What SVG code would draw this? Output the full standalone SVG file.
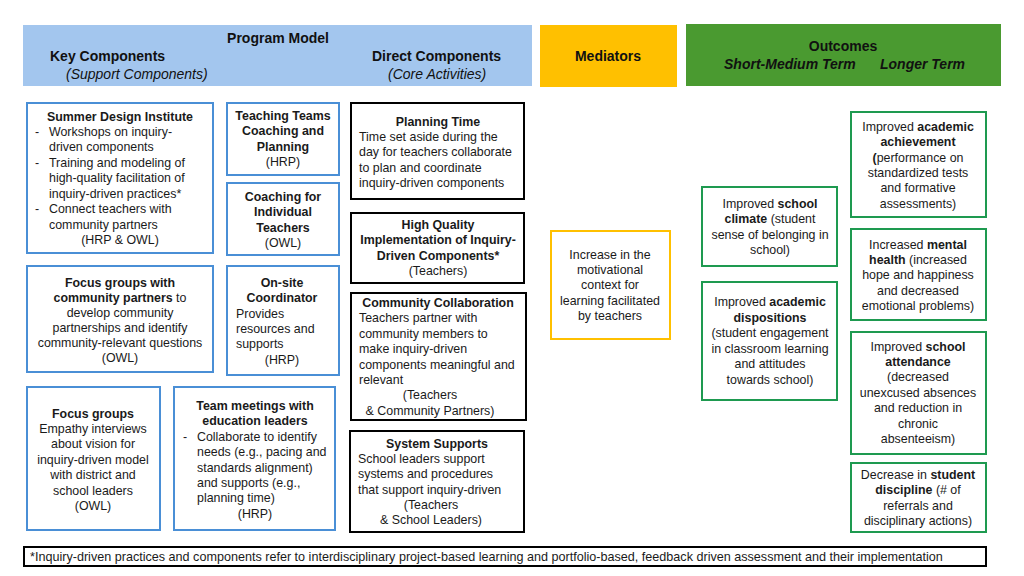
<svg xmlns="http://www.w3.org/2000/svg" width="1024" height="576" viewBox="0 0 1024 576">
<style>
text{font-family:"Liberation Sans",Arial,sans-serif;font-size:12.4px;fill:#1a1a1a}
.h{font-size:14px;font-weight:bold;fill:#111}
.hi{font-size:14px;font-style:italic;fill:#111}
.hbi{font-size:14px;font-style:italic;font-weight:bold;fill:#111}
.b{font-weight:bold}
.c{text-anchor:middle}
.fn{font-size:12.6px}
.blue{fill:#fff;stroke:#4A8FD6;stroke-width:2}
.blk{fill:#fff;stroke:#000;stroke-width:2}
.grn{fill:#fff;stroke:#1E9A50;stroke-width:2}
.gold{fill:#fff;stroke:#FFC000;stroke-width:2}
</style>
<rect width="1024" height="576" fill="#fff"/>
<g id="header-program">
<rect x="23" y="25" width="509" height="61" fill="#A3C6EE"/>
<text class="h c" x="278" y="43">Program Model</text>
<text class="h" x="50" y="61">Key Components</text>
<text class="hi" x="66" y="79">(Support Components)</text>
<text class="h" x="372" y="61">Direct Components</text>
<text class="hi" x="388" y="79">(Core Activities)</text>
</g>
<g id="header-mediators">
<rect x="540" y="25" width="137" height="62" fill="#FFC000"/>
<text class="h c" x="608" y="61">Mediators</text>
</g>
<g id="header-outcomes">
<rect x="686" y="24" width="315" height="62" fill="#4A9A30"/>
<text class="h c" x="843" y="51">Outcomes</text>
<text class="hbi" x="724" y="69">Short-Medium Term</text>
<text class="hbi" x="880" y="69">Longer Term</text>
</g>
<g id="summer-design-institute">
<rect class="blue" x="27" y="103" width="186" height="150"/>
<text class="b c" x="120" y="121">Summer Design Institute</text>
<text x="35" y="136">-</text><text x="49" y="136">Workshops on inquiry-</text>
<text x="49" y="151">driven components</text>
<text x="35" y="167">-</text><text x="49" y="167">Training and modeling of</text>
<text x="49" y="182">high-quality facilitation of</text>
<text x="49" y="198">inquiry-driven practices*</text>
<text x="35" y="213">-</text><text x="49" y="213">Connect teachers with</text>
<text x="49" y="229">community partners</text>
<text class="c" x="120" y="244">(HRP &amp; OWL)</text>
</g>
<g id="teaching-teams">
<rect class="blue" x="227" y="103" width="112" height="72"/>
<text class="b c" x="283" y="120">Teaching Teams</text>
<text class="b c" x="283" y="135">Coaching and</text>
<text class="b c" x="283" y="151">Planning</text>
<text class="c" x="283" y="166">(HRP)</text>
</g>
<g id="coaching-individual">
<rect class="blue" x="227" y="183" width="112" height="72"/>
<text class="b c" x="283" y="201">Coaching for</text>
<text class="b c" x="283" y="216">Individual</text>
<text class="b c" x="283" y="232">Teachers</text>
<text class="c" x="283" y="247">(OWL)</text>
</g>
<g id="focus-community">
<rect class="blue" x="27" y="266" width="186" height="106"/>
<text class="b c" x="120" y="287">Focus groups with</text>
<text class="c" x="120" y="302"><tspan class="b">community partners</tspan> to</text>
<text class="c" x="120" y="317">develop community</text>
<text class="c" x="120" y="332">partnerships and identify</text>
<text class="c" x="120" y="347">community-relevant questions</text>
<text class="c" x="120" y="362">(OWL)</text>
</g>
<g id="onsite-coordinator">
<rect class="blue" x="227" y="266" width="112" height="109"/>
<text class="b c" x="282" y="287">On-site</text>
<text class="b c" x="282" y="302">Coordinator</text>
<text x="236" y="318">Provides</text>
<text x="236" y="333">resources and</text>
<text x="236" y="348">supports</text>
<text class="c" x="282" y="364">(HRP)</text>
</g>
<g id="focus-groups">
<rect class="blue" x="27" y="387" width="133" height="143"/>
<text class="b c" x="93" y="418">Focus groups</text>
<text class="c" x="93" y="433">Empathy interviews</text>
<text class="c" x="93" y="448">about vision for</text>
<text class="c" x="93" y="464">inquiry-driven model</text>
<text class="c" x="93" y="479">with district and</text>
<text class="c" x="93" y="495">school leaders</text>
<text class="c" x="93" y="510">(OWL)</text>
</g>
<g id="team-meetings">
<rect class="blue" x="174" y="387" width="161" height="143"/>
<text class="b c" x="255" y="410">Team meetings with</text>
<text class="b c" x="255" y="425">education leaders</text>
<text x="183" y="441">-</text><text x="197" y="441">Collaborate to identify</text>
<text x="197" y="456">needs (e.g., pacing and</text>
<text x="197" y="472">standards alignment)</text>
<text x="197" y="487">and supports (e.g.,</text>
<text x="197" y="502">planning time)</text>
<text class="c" x="255" y="518">(HRP)</text>
</g>
<g id="planning-time">
<rect class="blk" x="351" y="103" width="173" height="96"/>
<text class="b c" x="438" y="126">Planning Time</text>
<text x="359" y="141">Time set aside during the</text>
<text x="359" y="156">day for teachers collaborate</text>
<text x="359" y="172">to plan and coordinate</text>
<text x="359" y="187">inquiry-driven components</text>
</g>
<g id="high-quality">
<rect class="blk" x="351" y="213" width="173" height="70"/>
<text class="b c" x="438" y="229">High Quality</text>
<text class="b c" x="438" y="244">Implementation of Inquiry-</text>
<text class="b c" x="438" y="260">Driven Components*</text>
<text class="c" x="438" y="275">(Teachers)</text>
</g>
<g id="community-collaboration">
<rect class="blk" x="351" y="293" width="175" height="127"/>
<text class="b c" x="438" y="307">Community Collaboration</text>
<text x="359" y="322">Teachers partner with</text>
<text x="359" y="338">community members to</text>
<text x="359" y="353">make inquiry-driven</text>
<text x="359" y="369">components meaningful and</text>
<text x="359" y="384">relevant</text>
<text class="c" x="430" y="399">(Teachers</text>
<text class="c" x="430" y="415">&amp; Community Partners)</text>
</g>
<g id="system-supports">
<rect class="blk" x="350" y="431" width="174" height="101"/>
<text class="b c" x="437" y="448">System Supports</text>
<text x="358" y="463">School leaders support</text>
<text x="358" y="478">systems and procedures</text>
<text x="358" y="494">that support inquiry-driven</text>
<text class="c" x="431" y="509">(Teachers</text>
<text class="c" x="431" y="524">&amp; School Leaders)</text>
</g>
<g id="mediator">
<rect class="gold" x="551" y="231" width="119" height="108"/>
<text class="c" x="610" y="259">Increase in the</text>
<text class="c" x="610" y="274">motivational</text>
<text class="c" x="610" y="289">context for</text>
<text class="c" x="610" y="305">learning facilitated</text>
<text class="c" x="610" y="320">by teachers</text>
</g>
<g id="school-climate">
<rect class="grn" x="702" y="187" width="135" height="79"/>
<text class="c" x="770" y="208">Improved <tspan class="b">school</tspan></text>
<text class="c" x="770" y="223"><tspan class="b">climate</tspan> (student</text>
<text class="c" x="770" y="239">sense of belonging in</text>
<text class="c" x="770" y="254">school)</text>
</g>
<g id="academic-dispositions">
<rect class="grn" x="702" y="282" width="135" height="118"/>
<text class="c" x="770" y="306">Improved <tspan class="b">academic</tspan></text>
<text class="b c" x="770" y="322">dispositions</text>
<text class="c" x="770" y="337">(student engagement</text>
<text class="c" x="770" y="353">in classroom learning</text>
<text class="c" x="770" y="368">and attitudes</text>
<text class="c" x="770" y="384">towards school)</text>
</g>
<g id="academic-achievement">
<rect class="grn" x="851" y="112" width="135" height="105"/>
<text class="c" x="918" y="131">Improved <tspan class="b">academic</tspan></text>
<text class="b c" x="918" y="146">achievement</text>
<text class="c" x="918" y="162"><tspan class="b">(</tspan>performance on</text>
<text class="c" x="918" y="177">standardized tests</text>
<text class="c" x="918" y="192">and formative</text>
<text class="c" x="918" y="208">assessments)</text>
</g>
<g id="mental-health">
<rect class="grn" x="851" y="229" width="135" height="91"/>
<text class="c" x="918" y="249">Increased <tspan class="b">mental</tspan></text>
<text class="c" x="918" y="264"><tspan class="b">health</tspan> (increased</text>
<text class="c" x="918" y="279">hope and happiness</text>
<text class="c" x="918" y="295">and decreased</text>
<text class="c" x="918" y="310">emotional problems)</text>
</g>
<g id="school-attendance">
<rect class="grn" x="851" y="332" width="135" height="122"/>
<text class="c" x="918" y="351">Improved <tspan class="b">school</tspan></text>
<text class="b c" x="918" y="366">attendance</text>
<text class="c" x="918" y="381">(decreased</text>
<text class="c" x="918" y="397">unexcused absences</text>
<text class="c" x="918" y="412">and reduction in</text>
<text class="c" x="918" y="428">chronic</text>
<text class="c" x="918" y="443">absenteeism)</text>
</g>
<g id="student-discipline">
<rect class="grn" x="851" y="463" width="135" height="69"/>
<text class="c" x="918" y="479">Decrease in <tspan class="b">student</tspan></text>
<text class="c" x="918" y="494"><tspan class="b">discipline</tspan> (# of</text>
<text class="c" x="918" y="510">referrals and</text>
<text class="c" x="918" y="525">disciplinary actions)</text>
</g>
<g id="footnote">
<rect class="blk" x="24" y="547" width="962" height="19"/>
<text class="fn" x="30" y="561">*Inquiry-driven practices and components refer to interdisciplinary project-based learning and portfolio-based, feedback driven assessment and their implementation</text>
</g>
<g id="connectors"></g>
</svg>
